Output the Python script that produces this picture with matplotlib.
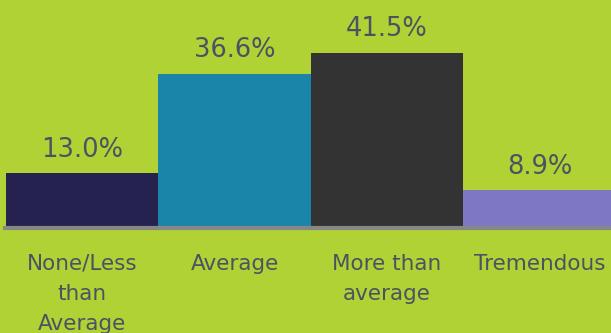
import matplotlib.pyplot as plt

categories = ['None/Less\nthan\nAverage', 'Average', 'More than\naverage', 'Tremendous']
shares = [13.0, 36.6, 41.5, 8.9]
bar_colors = ['#25224F', '#1A85A8', '#333333', '#7E78C4']

BG = '#B0D234'
TEXT = '#4D5262'

fig = plt.figure(figsize=(6.11, 3.33), dpi=100, facecolor=BG)
ax = fig.add_axes([0, 0, 1, 1])
ax.set_facecolor(BG)

x = range(len(shares))
bars = ax.bar(x, shares, width=1.0, color=bar_colors, zorder=2)

# grey baseline under the bars
ax.axhline(0, xmin=0.008, xmax=1, color='#878787', lw=3, zorder=3)

for b, v in zip(bars, shares):
    ax.annotate('%.1f%%' % v, (b.get_x() + b.get_width() / 2, v),
                xytext=(0, 12), textcoords='offset points',
                ha='center', va='baseline', fontsize=18.5,
                color=TEXT, family='DejaVu Sans')

for i, lab in enumerate(categories):
    ax.text(i, -6.1, lab, ha='center', va='top', fontsize=15.5,
            color=TEXT, family='DejaVu Sans', linespacing=1.62)

ax.set_xlim(-0.538, 3.469)
ax.set_ylim(-24.9, 54.07)
ax.axis('off')

fig.savefig('out.png', dpi=100, facecolor=BG)
